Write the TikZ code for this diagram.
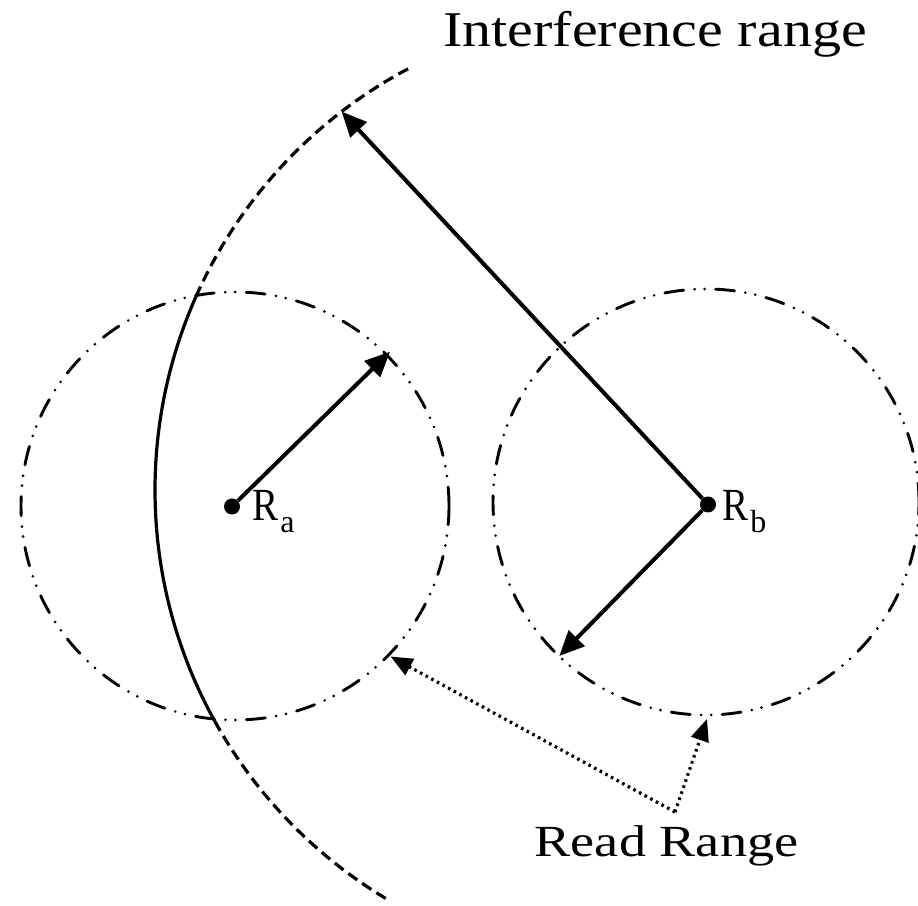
\documentclass[tikz,border=0pt]{standalone}
\usepackage{fontspec}
\setmainfont{Liberation Serif}
\usepackage{graphicx}
\usetikzlibrary{arrows.meta,calc}
\begin{document}
\begin{tikzpicture}[x=1pt,y=1pt,
  readcircle/.style={line width=2.9pt, line cap=round, dash pattern=on 19pt off 11pt on 0pt off 10pt on 0pt off 11pt},
  intdash/.style={line width=3.2pt, dash pattern=on 11pt off 6pt},
  intsolid/.style={line width=3.2pt},
  arr/.style={line width=4pt, -{Triangle[length=25pt,width=22pt]}},
  dotarr/.style={line width=3.2pt, dash pattern=on 2.6pt off 3.8pt, -{Triangle[length=22pt,width=18pt]}},
  reader/.style={circle, fill, inner sep=0pt, minimum size=16pt},
  lbl/.style={inner sep=0pt, anchor=base west, font=\rmfamily\fontsize{46}{46}\selectfont},
  title/.style={inner sep=0pt, anchor=base}
]
\useasboundingbox (0,0) rectangle (918,905);
% centres
\coordinate (CL) at (235,399);
\coordinate (CR) at (706,403);
\coordinate (CI) at (632,415);
% read ranges
\draw[readcircle] (CL) circle[radius=214pt];
\draw[readcircle] (CR) circle[radius=213pt];
% interference range arc
\draw[intdash] ($(CI)+(118:477pt)$) arc[start angle=118, end angle=155, radius=477pt];
\draw[intsolid] ($(CI)+(155:477pt)$) arc[start angle=155, end angle=209, radius=477pt];
\draw[intdash] ($(CI)+(209:477pt)$) arc[start angle=209, end angle=239.6, radius=477pt];
% readers
\node[reader] (Ra) at (232,398.5) {};
\node[reader] (Rb) at (708,400.5) {};
% arrow ends
\coordinate (ta) at (390,553.3);
\coordinate (ti) at ($(CI)+(127.5:477pt)$);
\coordinate (tb) at (559.3,249);
\coordinate (rl) at (390.5,248.5);
\coordinate (rr) at (707,186);
\coordinate (J) at (675,93);
\draw[arr] (Ra) -- (ta);
\draw[arr] (Rb) -- (ti);
\draw[arr] (Rb) -- (tb);
\draw[dotarr] (J) -- (rl);
\draw[dotarr] (J) -- (rr);
% labels
\node[lbl] (la) at (252,384.3) {\scalebox{0.85}[1]{R}\kern2pt\raisebox{-12.3pt}{\fontsize{32}{32}\selectfont a}};
\node[lbl] (lb) at (722,384.3) {\scalebox{0.85}[1]{R}\kern2pt\raisebox{-12.3pt}{\fontsize{32}{32}\selectfont b}};
\node[title, font=\rmfamily\fontsize{50}{50}\selectfont] (int) at (655,858.3) {\scalebox{1.16}[1]{Interference range}};
\node[title, font=\rmfamily\fontsize{44.5}{44.5}\selectfont] (rd) at (666.5,49) {\scalebox{1.22}[1]{Read Range}};
\end{tikzpicture}
\end{document}
